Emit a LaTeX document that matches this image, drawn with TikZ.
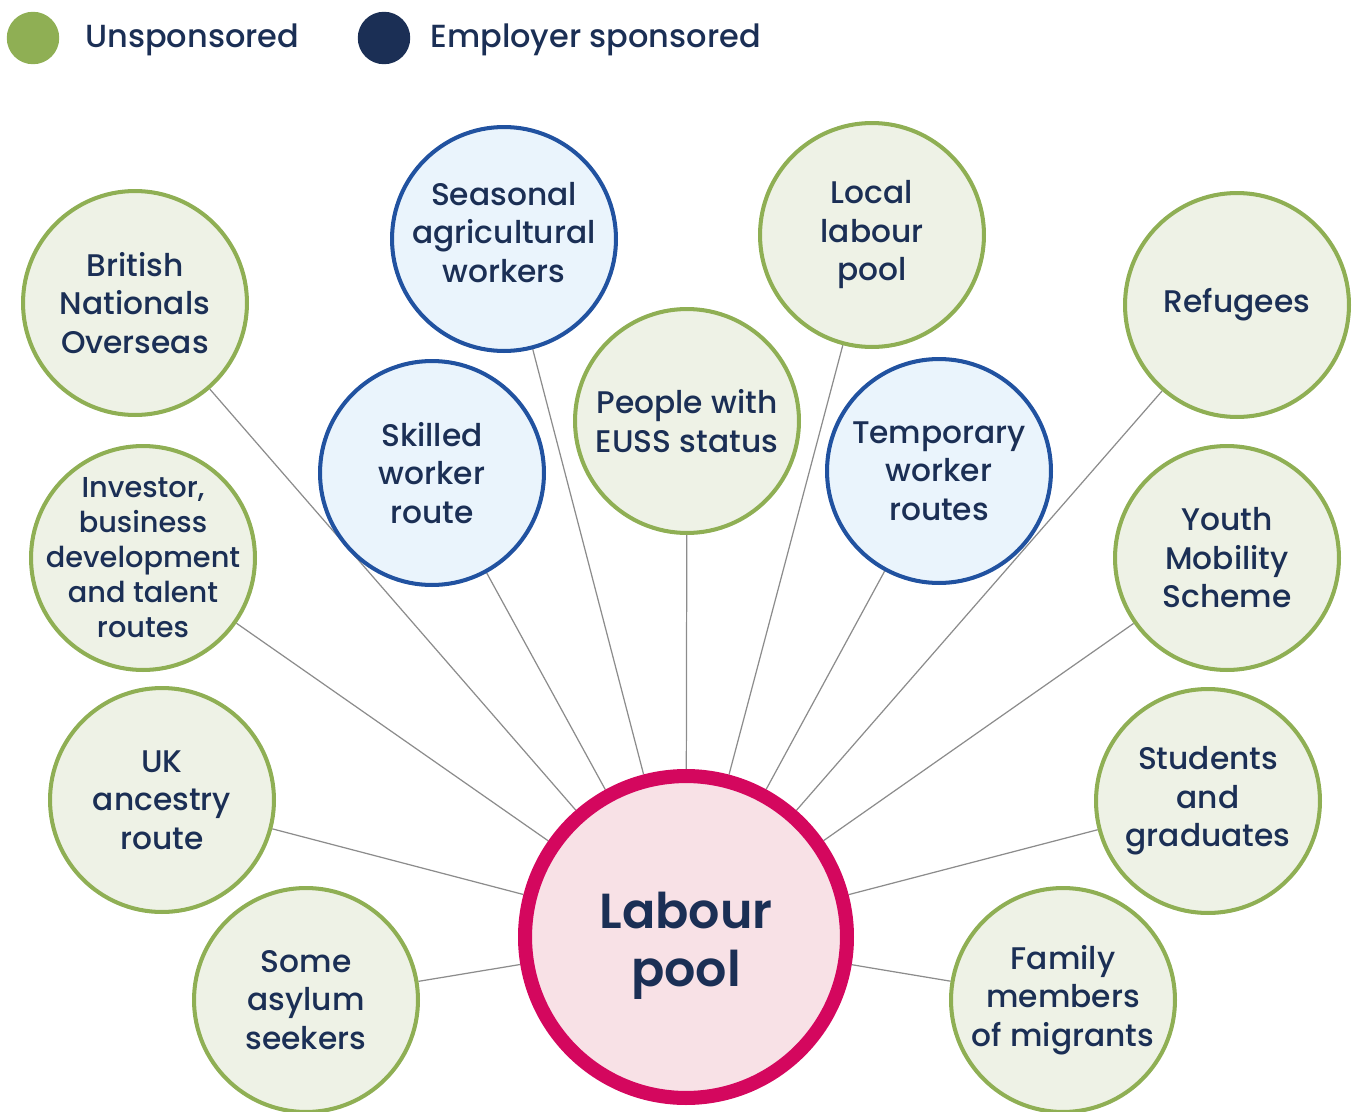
\documentclass[tikz,border=0pt]{standalone}
\usepackage{fontspec}
\setmainfont{Poppins Medium}[BoldFont={Poppins SemiBold}]
\usetikzlibrary{backgrounds}
\definecolor{navy}{HTML}{1B2F55}
\definecolor{grn}{HTML}{8FAF54}
\definecolor{grnfill}{HTML}{EEF2E6}
\definecolor{blu}{HTML}{2152A0}
\definecolor{blufill}{HTML}{EAF4FC}
\definecolor{pinkline}{HTML}{D4075E}
\definecolor{pinkfill}{HTML}{F8E1E6}
\definecolor{conn}{HTML}{8C8C8C}
\tikzset{
  bubble/.style={circle, minimum size=4.48cm, inner sep=0pt, line width=2.3pt, align=center, text=navy, font=\fontsize{17.8}{21.9}\selectfont},
  unsp/.style={bubble, draw=grn, fill=grnfill},
  spon/.style={bubble, draw=blu, fill=blufill},
  pool/.style={circle, minimum size=6.44cm, inner sep=0pt, line width=8pt, draw=pinkline, fill=pinkfill},
  pooltxt/.style={align=center, text=navy, font=\fontsize{28}{33}\selectfont\bfseries, inner sep=0pt},
  link/.style={draw=conn, line width=0.7pt},
  legdot/.style={circle, minimum size=1.05cm, inner sep=0pt},
  legtxt/.style={anchor=west, text=navy, font=\fontsize{18.2}{20}\selectfont, inner sep=0pt}
}
\begin{document}
\begin{tikzpicture}[x=0.02cm, y=-0.02cm]
\useasboundingbox (0,0) rectangle (1357,1112);
% legend
\node[legdot, fill=grn] (lg1) at (33,38) {};
\node[legtxt] (lt1) at (85,40) {Unsponsored};
\node[legdot, fill=navy] (lg2) at (384,38) {};
\node[legtxt] (lt2) at (430,40) {Employer sponsored};
% centre
\node[pool] (pool) at (686,937) {};
\node[pooltxt] (poolt) at (686,946) {Labour\\pool};
% outer bubbles
\node[unsp] (bno) at (135,303) {British\\Nationals\\Overseas};
\node[spon] (sea) at (504,239) {Seasonal\\agricultural\\workers\\[-14pt]\mbox{}};
\node[unsp] (loc) at (872,235) {Local\\labour\\pool};
\node[unsp] (ref) at (1237,305) {Refugees};
\node[spon] (skl) at (432,473) {Skilled\\worker\\route};
\node[unsp] (euss) at (687,421) {People with\\EUSS status};
\node[spon] (tmp) at (939,471) {Temporary\\worker\\routes};
\node[unsp, inner sep=-0.5cm, font=\fontsize{16.4}{19.9}\selectfont] (inv) at (143,558) {Investor,\\business\\development\\and talent\\routes};
\node[unsp] (yth) at (1227,558) {Youth\\Mobility\\Scheme};
\node[unsp] (uka) at (162,800) {UK\\ancestry\\route};
\node[unsp] (stu) at (1208,801) {Students\\and\\graduates};
\node[unsp] (asy) at (306,1000) {Some\\asylum\\seekers};
\node[unsp] (fam) at (1063,1000) {Family\\members\\of migrants};
\begin{scope}[on background layer]
\foreach \n in {bno,sea,loc,ref,skl,euss,tmp,inv,yth,uka,stu,asy,fam}
  \draw[link] (\n) -- (pool);
\end{scope}
\end{tikzpicture}
\end{document}
